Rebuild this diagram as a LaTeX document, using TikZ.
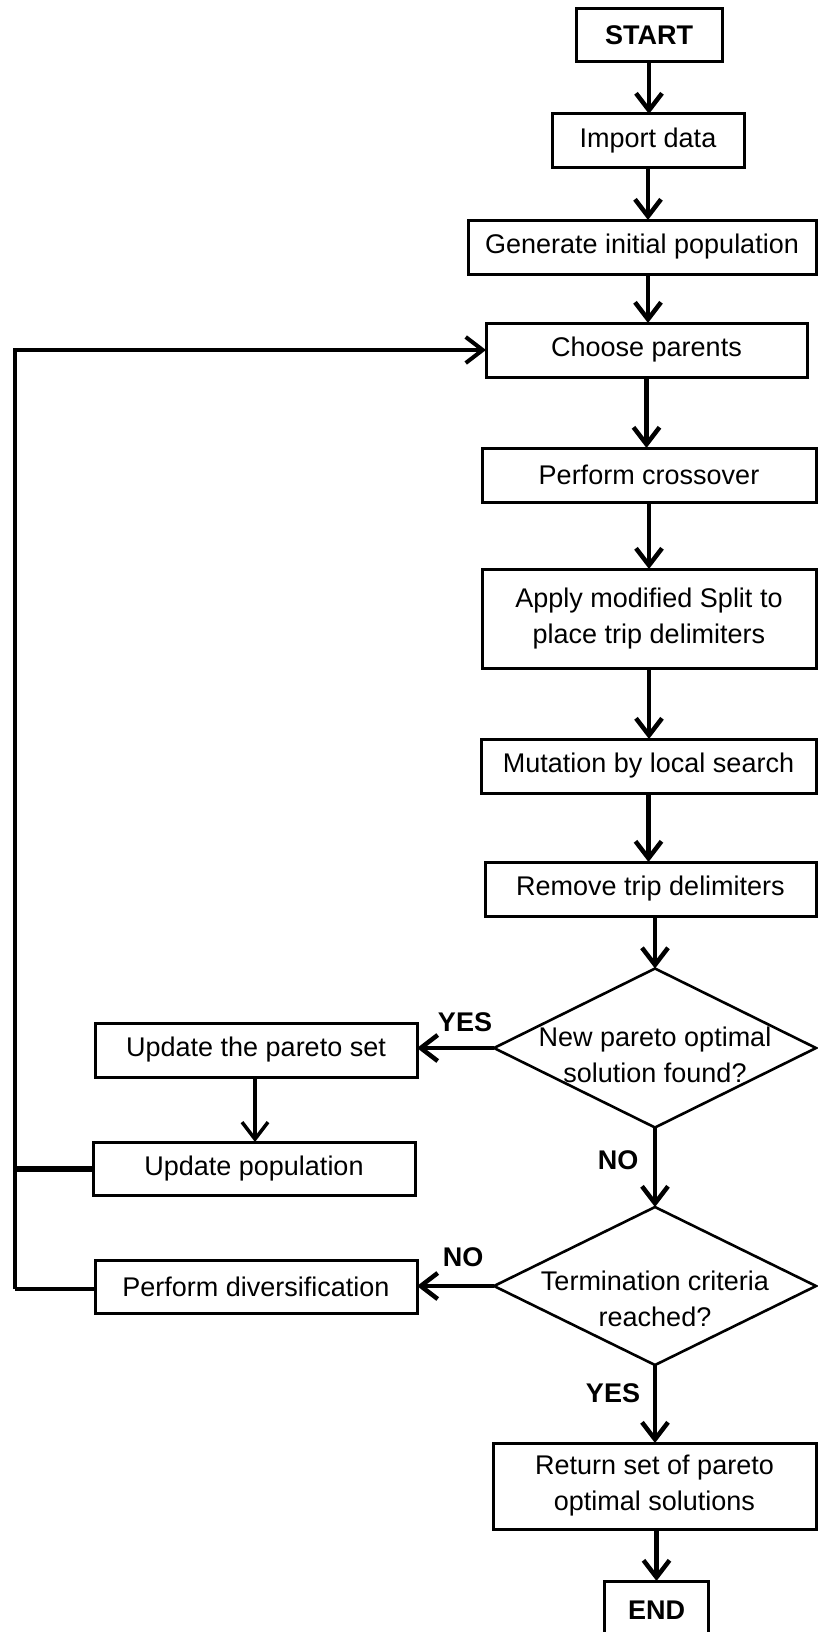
\documentclass[tikz,border=0pt]{standalone}
\usepackage{fontspec}
\setmainfont{Liberation Sans}
\usetikzlibrary{arrows.meta,shapes.geometric}
\begin{document}
\begin{tikzpicture}[x=1pt,y=-1pt,
  txt/.style={font=\fontsize{27}{36}\selectfont},
  box/.style={draw, line width=3pt, rectangle, inner sep=0pt, outer sep=0pt, align=center, txt},
  term/.style={box, font=\fontsize{27}{36}\selectfont\bfseries},
  decision/.style={draw, line width=2.6pt, diamond, inner sep=0pt, outer sep=0pt},
  lbl/.style={font=\fontsize{27}{36}\selectfont\bfseries, inner sep=0pt},
  arr/.style={line width=4.5pt, -{Straight Barb[length=17pt,width=26pt]}},
  conn/.style={line width=4pt}
]
\useasboundingbox (0,0) rectangle (817,1632);

\node[term, minimum width=146, minimum height=53] (start) at (649,35.5) {START};
\node[box, minimum width=192, minimum height=54] (import) at (648,141) {Import data};
\node[box, minimum width=348, minimum height=54] (gen) at (642,247) {Generate initial population};
\node[box, minimum width=321, minimum height=54] (choose) at (646.5,350) {Choose parents};
\node[box, minimum width=334, minimum height=54] (cross) at (649,475) {Perform crossover};
\node[box, minimum width=334, minimum height=99] (split) at (649,618.5) {Apply modified Split to\\place trip delimiters};
\node[box, minimum width=335, minimum height=54] (mut) at (648.5,766) {Mutation by local search};
\node[box, minimum width=331, minimum height=54] (remove) at (650.5,889) {Remove trip delimiters};
\node[decision, minimum width=322, minimum height=159,
  label={[txt, align=center, yshift=-7pt]center:New pareto optimal\\solution found?}] (d1) at (655,1048) {};
\node[decision, minimum width=322, minimum height=158,
  label={[txt, align=center, yshift=-13pt]center:Termination criteria\\reached?}] (d2) at (655,1286) {};
\node[box, minimum width=323, minimum height=86] (ret) at (654.5,1486) {Return set of pareto\\optimal solutions};
\node[term, minimum width=104, minimum height=58] (end) at (656.5,1610) {END};

\node[box, minimum width=322, minimum height=54] (upd) at (256,1050) {Update the pareto set};
\node[box, minimum width=322, minimum height=53] (pop) at (254,1168.5) {Update population};
\node[box, minimum width=322, minimum height=53] (div) at (256,1287) {Perform diversification};

\node[lbl] (yes1) at (465,1022) {YES};
\node[lbl] (no1) at (618,1160) {NO};
\node[lbl] (no2) at (463,1257) {NO};
\node[lbl] (yes2) at (613,1393) {YES};

\draw[arr] (start.south) -- (start.south |- import.north);
\draw[arr] (import.south) -- (import.south |- gen.north);
\draw[arr] (import.south |- gen.south) -- (import.south |- choose.north);
\draw[arr] (choose.south) -- (choose.south |- cross.north);
\draw[arr] (cross.south) -- (cross.south |- split.north);
\draw[arr] (split.south) -- (split.south |- mut.north);
\draw[arr] (mut.south) -- (mut.south |- remove.north);
\draw[arr] (d1.north |- remove.south) -- (d1.north);
\draw[arr] (d1.south) -- (d2.north);
\draw[arr] (d2.south) -- (d2.south |- ret.north);
\draw[arr] (ret.south -| end.north) -- (end.north);
\draw[arr] (d1.west) -- (upd.east |- d1.west);
\draw[arr] (d2.west) -- (div.east |- d2.west);
\draw[arr, line width=3.5pt] (upd.south -| 255,0) -- (pop.north -| 255,0);

\coordinate (lb) at (15,1289);
\draw[conn] (div.west |- lb) -- (lb);
\draw[arr, line width=4pt] (lb) |- (choose.west);
\draw[line width=6pt] (pop.west) -- (pop.west -| lb);
\end{tikzpicture}
\end{document}
